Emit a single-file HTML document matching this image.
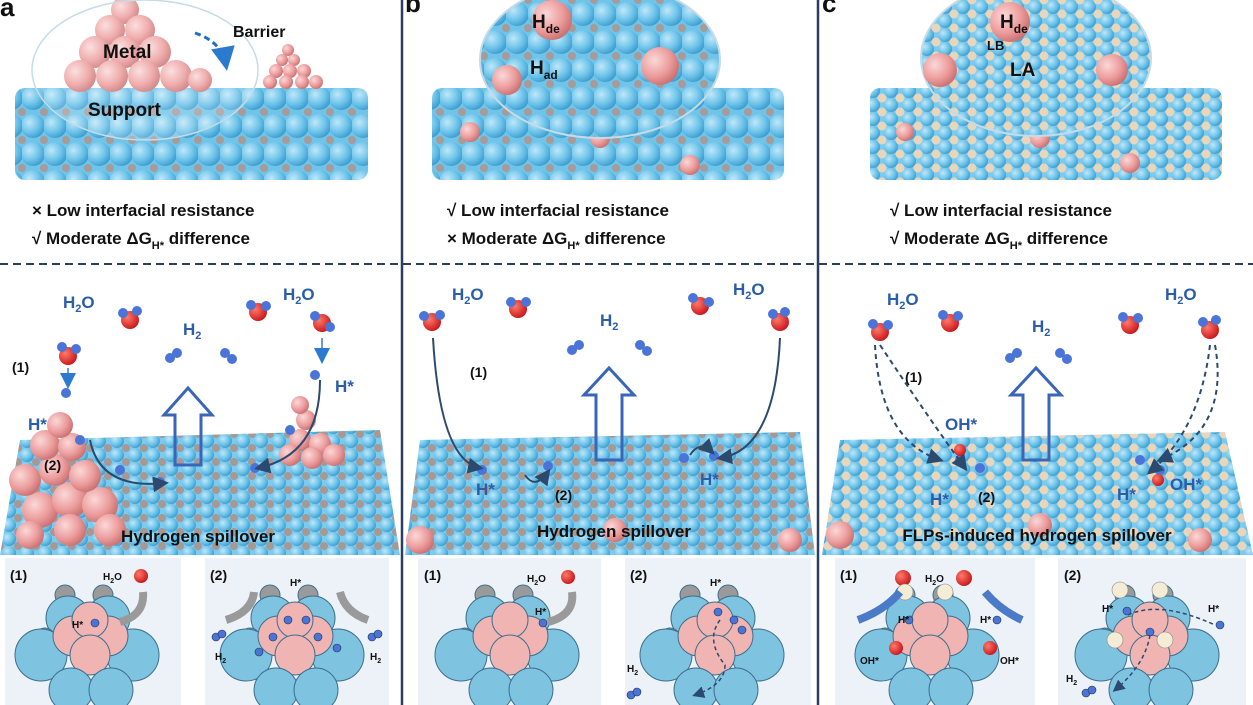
<!DOCTYPE html>
<html><head><style>
html,body{margin:0;padding:0;background:#fff;}
svg{display:block;font-family:"Liberation Sans",Arial,sans-serif;font-weight:bold;}
</style></head><body>
<svg width="1253" height="705" viewBox="0 0 1253 705" xmlns="http://www.w3.org/2000/svg">
<defs>
<radialGradient id="bl" cx="35%" cy="35%" r="70%"><stop offset="0" stop-color="#bfe7f8"/><stop offset="0.6" stop-color="#6cc3ea"/><stop offset="1" stop-color="#3c9bcc"/></radialGradient>
<radialGradient id="pk" cx="35%" cy="35%" r="70%"><stop offset="0" stop-color="#fbd8d8"/><stop offset="0.6" stop-color="#ec9c9c"/><stop offset="1" stop-color="#c96f70"/></radialGradient>
<radialGradient id="rd" cx="35%" cy="35%" r="70%"><stop offset="0" stop-color="#ff7a6a"/><stop offset="1" stop-color="#c8151a"/></radialGradient>
<pattern id="slab" width="22" height="28" patternUnits="userSpaceOnUse">
<rect width="22" height="28" fill="#6fc4ea"/>
<circle cx="11" cy="14" r="12" fill="url(#bl)"/>
<circle cx="0" cy="0" r="4" fill="#a89a98"/><circle cx="22" cy="0" r="4" fill="#a89a98"/>
<circle cx="0" cy="28" r="4" fill="#a89a98"/><circle cx="22" cy="28" r="4" fill="#a89a98"/>
</pattern>
<pattern id="surf" width="18" height="14" patternUnits="userSpaceOnUse">
<rect width="18" height="14" fill="#7ccbee"/>
<circle cx="9" cy="7" r="7" fill="url(#bl)"/>
<circle cx="0" cy="0" r="4" fill="#a69894"/><circle cx="18" cy="0" r="4" fill="#a69894"/>
<circle cx="0" cy="14" r="4" fill="#a69894"/><circle cx="18" cy="14" r="4" fill="#a69894"/>
</pattern>
<pattern id="surfc" width="18" height="14" patternUnits="userSpaceOnUse">
<rect width="18" height="14" fill="#7ccbee"/>
<circle cx="9" cy="7" r="7" fill="url(#bl)"/>
<circle cx="0" cy="0" r="4.5" fill="#e8d6bc"/><circle cx="18" cy="0" r="4.5" fill="#e8d6bc"/>
<circle cx="0" cy="14" r="4.5" fill="#e8d6bc"/><circle cx="18" cy="14" r="4.5" fill="#e8d6bc"/>
</pattern>
<marker id="ah" markerWidth="8" markerHeight="8" refX="6" refY="4" orient="auto"><path d="M0,0 L8,4 L0,8z" fill="#2b4a6e"/></marker>
<marker id="ahb" markerWidth="8" markerHeight="8" refX="6" refY="4" orient="auto"><path d="M0,0 L8,4 L0,8z" fill="#2a7bd0"/></marker>
</defs>

<!-- separators -->
<line x1="402" y1="0" x2="402" y2="705" stroke="#2a3f5f" stroke-width="2.5"/>
<line x1="818" y1="0" x2="818" y2="705" stroke="#2a3f5f" stroke-width="2.5"/>
<line x1="0" y1="264" x2="1253" y2="264" stroke="#2a3f5f" stroke-width="2" stroke-dasharray="8,5"/>

<!-- ===== Panel a top ===== -->
<text x="0" y="16" font-size="26" fill="#111">a</text>
<rect x="15" y="88" width="353" height="92" fill="url(#slab)" rx="10"/>
<g fill="url(#pk)">
<circle cx="125" cy="10" r="14"/><circle cx="110" cy="30" r="15"/><circle cx="140" cy="30" r="15"/>
<circle cx="95" cy="52" r="16"/><circle cx="125" cy="52" r="16"/><circle cx="155" cy="52" r="16"/>
<circle cx="80" cy="76" r="16"/><circle cx="112" cy="76" r="16"/><circle cx="144" cy="76" r="16"/><circle cx="176" cy="76" r="16"/><circle cx="200" cy="80" r="12"/>
<circle cx="288" cy="50" r="6"/><circle cx="282" cy="60" r="6"/><circle cx="294" cy="60" r="6"/><circle cx="276" cy="71" r="7"/><circle cx="290" cy="71" r="7"/><circle cx="304" cy="71" r="7"/><circle cx="270" cy="82" r="7"/><circle cx="286" cy="82" r="7"/><circle cx="302" cy="82" r="7"/><circle cx="316" cy="82" r="7"/>
</g>
<ellipse cx="145" cy="70" rx="113" ry="70" fill="rgba(255,255,255,0.18)" stroke="#c6dbe8" stroke-width="1.5"/>
<path d="M195,33 Q222,42 226,65" stroke="#1f6fc2" stroke-width="3" fill="none" stroke-dasharray="6,4" marker-end="url(#ahb)"/>
<text x="233" y="37" font-size="16" fill="#111">Barrier</text>
<text x="103" y="58" font-size="19" fill="#111">Metal</text>
<text x="88" y="116" font-size="19" fill="#111">Support</text>
<text x="32" y="216" font-size="17" fill="#111">× Low interfacial resistance</text>
<text x="32" y="244" font-size="17" fill="#111">√ Moderate ΔG<tspan font-size="11" dy="5">H*</tspan><tspan dy="-5"> difference</tspan></text>

<!-- ===== Panel b top ===== -->
<text x="405" y="12" font-size="26" fill="#111">b</text>
<rect x="432" y="88" width="352" height="92" fill="url(#slab)" rx="10"/>
<g fill="url(#pk)"><circle cx="470" cy="132" r="10"/><circle cx="600" cy="138" r="10"/><circle cx="690" cy="165" r="10"/><circle cx="555" cy="112" r="9"/></g>
<ellipse cx="600" cy="60" rx="120" ry="78" fill="url(#slab)" stroke="#c6dbe8" stroke-width="2"/>
<g fill="url(#pk)"><circle cx="552" cy="20" r="20"/><circle cx="660" cy="66" r="19"/><circle cx="507" cy="80" r="15"/></g>
<text x="532" y="28" font-size="19" fill="#111">H<tspan font-size="12" dy="5">de</tspan></text>
<text x="530" y="74" font-size="19" fill="#111">H<tspan font-size="12" dy="5">ad</tspan></text>
<text x="447" y="216" font-size="17" fill="#111">√ Low interfacial resistance</text>
<text x="447" y="244" font-size="17" fill="#111">× Moderate ΔG<tspan font-size="11" dy="5">H*</tspan><tspan dy="-5"> difference</tspan></text>

<!-- ===== Panel c top ===== -->
<text x="822" y="12" font-size="26" fill="#111">c</text>
<rect x="870" y="88" width="352" height="92" fill="url(#surfc)" rx="10"/>
<g fill="url(#pk)"><circle cx="905" cy="132" r="9"/><circle cx="1040" cy="138" r="10"/><circle cx="1130" cy="163" r="10"/><circle cx="995" cy="112" r="9"/></g>
<ellipse cx="1036" cy="58" rx="115" ry="78" fill="url(#surfc)" stroke="#c6dbe8" stroke-width="2"/>
<g fill="url(#pk)"><circle cx="1010" cy="22" r="20"/><circle cx="940" cy="70" r="17"/><circle cx="1112" cy="70" r="16"/></g>
<text x="1000" y="28" font-size="19" fill="#111">H<tspan font-size="12" dy="5">de</tspan></text>
<text x="987" y="50" font-size="13" fill="#111">LB</text>
<text x="1010" y="76" font-size="19" fill="#111">LA</text>
<text x="890" y="216" font-size="17" fill="#111">√ Low interfacial resistance</text>
<text x="890" y="244" font-size="17" fill="#111">√ Moderate ΔG<tspan font-size="11" dy="5">H*</tspan><tspan dy="-5"> difference</tspan></text>

<!-- ===== middle surfaces ===== -->
<path d="M20,440 L380,430 L400,555 L0,555 Z" fill="url(#surf)"/>
<path d="M420,440 L800,432 L815,555 L405,555 Z" fill="url(#surf)"/>
<path d="M840,440 L1225,432 L1253,555 L822,555 Z" fill="url(#surfc)"/>
<g fill="url(#pk)">
<circle cx="40" cy="510" r="18"/><circle cx="70" cy="500" r="18"/><circle cx="100" cy="505" r="18"/><circle cx="25" cy="480" r="16"/><circle cx="55" cy="470" r="16"/><circle cx="85" cy="476" r="16"/><circle cx="45" cy="445" r="15"/><circle cx="72" cy="447" r="14"/><circle cx="60" cy="425" r="13"/><circle cx="110" cy="530" r="16"/><circle cx="70" cy="530" r="16"/><circle cx="30" cy="535" r="14"/>
<circle cx="300" cy="440" r="11"/><circle cx="320" cy="444" r="11"/><circle cx="290" cy="455" r="11"/><circle cx="312" cy="458" r="11"/><circle cx="334" cy="455" r="11"/><circle cx="306" cy="420" r="10"/><circle cx="300" cy="405" r="9"/>
<circle cx="420" cy="540" r="14"/><circle cx="615" cy="530" r="12"/><circle cx="790" cy="540" r="12"/>
<circle cx="840" cy="535" r="14"/><circle cx="1040" cy="525" r="12"/><circle cx="1200" cy="540" r="12"/>
</g>
<rect x="0" y="524" width="1253" height="0" fill="none"/>
<text x="198" y="542" font-size="17" fill="#111" text-anchor="middle">Hydrogen spillover</text>
<text x="614" y="537" font-size="17" fill="#111" text-anchor="middle">Hydrogen spillover</text>
<text x="1037" y="541" font-size="17" fill="#111" text-anchor="middle">FLPs-induced hydrogen spillover</text>

<!-- big arrows -->
<g fill="none" stroke="#3a66b8" stroke-width="3">
<path d="M175,465 L175,415 L164,415 L188,388 L212,415 L201,415 L201,465 Z"/>
<path d="M596,460 L596,395 L584,395 L609,368 L634,395 L622,395 L622,460 Z"/>
<path d="M1023,460 L1023,395 L1011,395 L1036,368 L1061,395 L1049,395 L1049,460 Z"/>
</g>

<!-- molecules -->
<g>
<g transform="translate(68,356)"><circle r="9" fill="url(#rd)"/><circle cx="-6" cy="-9" r="5" fill="#4a74d8"/><circle cx="8" cy="-7" r="5" fill="#4a74d8"/></g>
<g transform="translate(130,320)"><circle r="9" fill="url(#rd)"/><circle cx="-7" cy="-7" r="5" fill="#4a74d8"/><circle cx="7" cy="-9" r="5" fill="#4a74d8"/></g>
<g transform="translate(258,312)"><circle r="9" fill="url(#rd)"/><circle cx="-7" cy="-7" r="5" fill="#4a74d8"/><circle cx="8" cy="-6" r="5" fill="#4a74d8"/></g>
<g transform="translate(322,323)"><circle r="9" fill="url(#rd)"/><circle cx="-7" cy="-7" r="5" fill="#4a74d8"/><circle cx="8" cy="4" r="5" fill="#4a74d8"/></g>
<g transform="translate(432,322)"><circle r="9" fill="url(#rd)"/><circle cx="-8" cy="-6" r="5" fill="#4a74d8"/><circle cx="8" cy="-7" r="5" fill="#4a74d8"/></g>
<g transform="translate(518,309)"><circle r="9" fill="url(#rd)"/><circle cx="-7" cy="-7" r="5" fill="#4a74d8"/><circle cx="8" cy="-7" r="5" fill="#4a74d8"/></g>
<g transform="translate(700,306)"><circle r="9" fill="url(#rd)"/><circle cx="-7" cy="-8" r="5" fill="#4a74d8"/><circle cx="9" cy="-4" r="5" fill="#4a74d8"/></g>
<g transform="translate(780,322)"><circle r="9" fill="url(#rd)"/><circle cx="-7" cy="-8" r="5" fill="#4a74d8"/><circle cx="5" cy="-10" r="5" fill="#4a74d8"/></g>
<g transform="translate(880,332)"><circle r="9" fill="url(#rd)"/><circle cx="-7" cy="-8" r="5" fill="#4a74d8"/><circle cx="8" cy="-7" r="5" fill="#4a74d8"/></g>
<g transform="translate(950,323)"><circle r="9" fill="url(#rd)"/><circle cx="-7" cy="-8" r="5" fill="#4a74d8"/><circle cx="8" cy="-7" r="5" fill="#4a74d8"/></g>
<g transform="translate(1130,325)"><circle r="9" fill="url(#rd)"/><circle cx="-7" cy="-8" r="5" fill="#4a74d8"/><circle cx="8" cy="-7" r="5" fill="#4a74d8"/></g>
<g transform="translate(1210,330)"><circle r="9" fill="url(#rd)"/><circle cx="-7" cy="-8" r="5" fill="#4a74d8"/><circle cx="6" cy="-10" r="5" fill="#4a74d8"/></g>
</g>
<g fill="#4a74d8">
<circle cx="170" cy="358" r="5"/><circle cx="177" cy="353" r="5"/><circle cx="225" cy="353" r="5"/><circle cx="232" cy="359" r="5"/>
<circle cx="572" cy="350" r="5"/><circle cx="579" cy="345" r="5"/><circle cx="640" cy="345" r="5"/><circle cx="647" cy="351" r="5"/>
<circle cx="1010" cy="358" r="5"/><circle cx="1017" cy="353" r="5"/><circle cx="1060" cy="353" r="5"/><circle cx="1067" cy="359" r="5"/>
<circle cx="66" cy="393" r="5"/><circle cx="80" cy="440" r="5"/><circle cx="120" cy="470" r="5"/><circle cx="160" cy="482" r="5"/><circle cx="255" cy="468" r="5"/><circle cx="315" cy="375" r="5"/><circle cx="290" cy="430" r="5"/>
<circle cx="482" cy="470" r="5"/><circle cx="548" cy="466" r="5"/><circle cx="684" cy="458" r="5"/><circle cx="714" cy="456" r="5"/>
<circle cx="960" cy="460" r="5"/><circle cx="980" cy="468" r="5"/><circle cx="1140" cy="460" r="5"/><circle cx="1160" cy="470" r="5"/>
</g>
<circle cx="960" cy="450" r="6" fill="url(#rd)"/><circle cx="1158" cy="480" r="6" fill="url(#rd)"/>

<g font-size="17" fill="#2b5da8">
<text x="63" y="308">H<tspan font-size="11" dy="4">2</tspan><tspan dy="-4">O</tspan></text>
<text x="283" y="300">H<tspan font-size="11" dy="4">2</tspan><tspan dy="-4">O</tspan></text>
<text x="183" y="335">H<tspan font-size="11" dy="4">2</tspan></text>
<text x="452" y="300">H<tspan font-size="11" dy="4">2</tspan><tspan dy="-4">O</tspan></text>
<text x="733" y="295">H<tspan font-size="11" dy="4">2</tspan><tspan dy="-4">O</tspan></text>
<text x="600" y="326">H<tspan font-size="11" dy="4">2</tspan></text>
<text x="887" y="305">H<tspan font-size="11" dy="4">2</tspan><tspan dy="-4">O</tspan></text>
<text x="1165" y="300">H<tspan font-size="11" dy="4">2</tspan><tspan dy="-4">O</tspan></text>
<text x="1032" y="332">H<tspan font-size="11" dy="4">2</tspan></text>
<text x="335" y="392">H*</text><text x="28" y="430">H*</text>
<text x="476" y="495">H*</text><text x="700" y="485">H*</text>
<text x="945" y="430">OH*</text><text x="1170" y="490">OH*</text>
<text x="930" y="505">H*</text><text x="1117" y="500">H*</text>
</g>
<g font-size="14" fill="#111">
<text x="12" y="372">(1)</text><text x="44" y="470">(2)</text>
<text x="470" y="377">(1)</text><text x="555" y="500">(2)</text>
<text x="905" y="382">(1)</text><text x="978" y="502">(2)</text>
</g>

<!-- connector arrows -->
<g fill="none" stroke="#2b4a6e" stroke-width="2">
<path d="M90,440 Q100,490 165,483" marker-end="url(#ah)"/>
<path d="M320,380 Q320,455 258,468" marker-end="url(#ah)"/>
<path d="M433,338 Q440,460 480,468" marker-end="url(#ah)"/>
<path d="M780,338 Q775,450 720,458" marker-end="url(#ah)"/>
<path d="M525,475 Q535,490 548,472" marker-end="url(#ah)"/>
<path d="M690,455 Q700,440 712,452" marker-end="url(#ah)"/>
</g>
<g fill="none" stroke="#6b9ad8" stroke-width="2">
<path d="M68,368 L68,385" marker-end="url(#ahb)"/><path d="M322,338 L322,360" marker-end="url(#ahb)"/>
</g>
<g fill="none" stroke="#2b4a6e" stroke-width="2" stroke-dasharray="5,4">
<path d="M875,345 Q880,440 940,460" marker-end="url(#ah)"/>
<path d="M880,345 Q930,420 965,468" marker-end="url(#ah)"/>
<path d="M1215,345 Q1230,430 1160,460" marker-end="url(#ah)"/>
<path d="M1210,345 Q1200,430 1150,472" marker-end="url(#ah)"/>
</g>

<!-- ===== insets ===== -->
<g fill="#edf1f8">
<rect x="5" y="558" width="176" height="147"/><rect x="205" y="558" width="184" height="147"/>
<rect x="418" y="558" width="183" height="147"/><rect x="625" y="558" width="186" height="147"/>
<rect x="835" y="558" width="200" height="147"/><rect x="1058" y="558" width="188" height="147"/>
</g>

<!-- cluster template -->
<g id="ca" stroke="#3d6f8e" stroke-width="1">
<g transform="translate(93,640)">
<circle cx="-28" cy="-45" r="10" fill="#9a9a9a"/><circle cx="10" cy="-45" r="10" fill="#9a9a9a"/>
<circle cx="-25" cy="-22" r="22" fill="#7ec3e0"/><circle cx="15" cy="-22" r="22" fill="#7ec3e0"/>
<circle cx="-48" cy="-2" r="10" fill="#9a9a9a"/><circle cx="-52" cy="15" r="26" fill="#7ec3e0"/><circle cx="40" cy="15" r="26" fill="#7ec3e0"/>
<circle cx="-20" cy="-4" r="20" fill="#f0b4b2"/><circle cx="15" cy="-4" r="20" fill="#f0b4b2"/><circle cx="-3" cy="-20" r="18" fill="#f0b4b2"/><circle cx="-3" cy="15" r="20" fill="#f0b4b2"/>
<circle cx="-22" cy="50" r="22" fill="#7ec3e0"/><circle cx="18" cy="50" r="22" fill="#7ec3e0"/>
</g>
</g>
<use href="#ca" x="205" y="0"/>
<use href="#ca" x="420" y="0"/>
<use href="#ca" x="625" y="0"/>
<use href="#ca" x="840" y="0"/>
<use href="#ca" x="1060" y="0"/>

<g fill="#4a74d8" stroke="#234" stroke-width="0.6">
<circle cx="95" cy="623" r="4"/>
<circle cx="288" cy="620" r="4"/><circle cx="306" cy="620" r="4"/><circle cx="273" cy="637" r="4"/><circle cx="318" cy="637" r="4"/><circle cx="259" cy="652" r="4"/><circle cx="337" cy="648" r="4"/>
<circle cx="216" cy="637" r="4"/><circle cx="222" cy="634" r="4"/><circle cx="372" cy="637" r="4"/><circle cx="378" cy="634" r="4"/>
<circle cx="543" cy="623" r="4"/>
<circle cx="718" cy="612" r="4"/><circle cx="734" cy="620" r="4"/><circle cx="742" cy="630" r="4"/>
<circle cx="631" cy="695" r="4"/><circle cx="637" cy="692" r="4"/>
<circle cx="1127" cy="611" r="4"/><circle cx="1220" cy="625" r="4"/><circle cx="1150" cy="632" r="4"/>
<circle cx="1086" cy="693" r="4"/><circle cx="1092" cy="690" r="4"/>
<circle cx="909" cy="620" r="4"/><circle cx="997" cy="620" r="4"/>
</g>
<g fill="url(#rd)"><circle cx="141" cy="576" r="7"/><circle cx="568" cy="577" r="7"/><circle cx="903" cy="578" r="8"/><circle cx="964" cy="578" r="8"/><circle cx="896" cy="648" r="7"/><circle cx="990" cy="648" r="7"/></g>
<g fill="#f5ecd6" stroke="#888" stroke-width="0.6"><circle cx="1120" cy="590" r="8"/><circle cx="1160" cy="590" r="8"/><circle cx="1115" cy="640" r="8"/><circle cx="1165" cy="640" r="8"/><circle cx="905" cy="592" r="8"/><circle cx="945" cy="592" r="8"/></g>

<g fill="none" stroke="#9a9a9a" stroke-width="8">
<path d="M143,592 Q145,615 120,622" /><path d="M254,592 Q252,612 226,620"/><path d="M340,592 Q345,612 368,620"/><path d="M572,592 Q575,615 548,622"/>
</g>
<g fill="none" stroke="#4a7ac8" stroke-width="8"><path d="M900,592 Q885,610 858,620"/><path d="M985,592 Q1000,610 1022,620"/></g>
<g fill="none" stroke="#2b4a6e" stroke-width="1.5" stroke-dasharray="4,3">
<path d="M720,620 Q705,640 725,665 Q725,685 695,695" marker-end="url(#ah)"/>
<path d="M1128,615 Q1160,600 1215,625"/><path d="M1150,635 Q1145,665 1115,690" marker-end="url(#ah)"/>
</g>

<g font-size="14" fill="#111">
<text x="10" y="580">(1)</text><text x="210" y="580">(2)</text>
<text x="424" y="580">(1)</text><text x="630" y="580">(2)</text>
<text x="840" y="580">(1)</text><text x="1064" y="580">(2)</text>
</g>
<g font-size="10" fill="#111">
<text x="103" y="580">H<tspan font-size="7" dy="3">2</tspan><tspan dy="-3">O</tspan></text>
<text x="527" y="582">H<tspan font-size="7" dy="3">2</tspan><tspan dy="-3">O</tspan></text>
<text x="925" y="582">H<tspan font-size="7" dy="3">2</tspan><tspan dy="-3">O</tspan></text>
<text x="72" y="628">H*</text><text x="290" y="586">H*</text><text x="710" y="586">H*</text>
<text x="1102" y="612">H*</text><text x="1208" y="612">H*</text>
<text x="535" y="615">H*</text><text x="898" y="623">H*</text><text x="980" y="623">H*</text>
<text x="215" y="660">H<tspan font-size="7" dy="3">2</tspan></text><text x="370" y="660">H<tspan font-size="7" dy="3">2</tspan></text>
<text x="627" y="672">H<tspan font-size="7" dy="3">2</tspan></text><text x="1066" y="682">H<tspan font-size="7" dy="3">2</tspan></text>
<text x="860" y="664">OH*</text><text x="1000" y="664">OH*</text>
</g>
</svg>
</body></html>
